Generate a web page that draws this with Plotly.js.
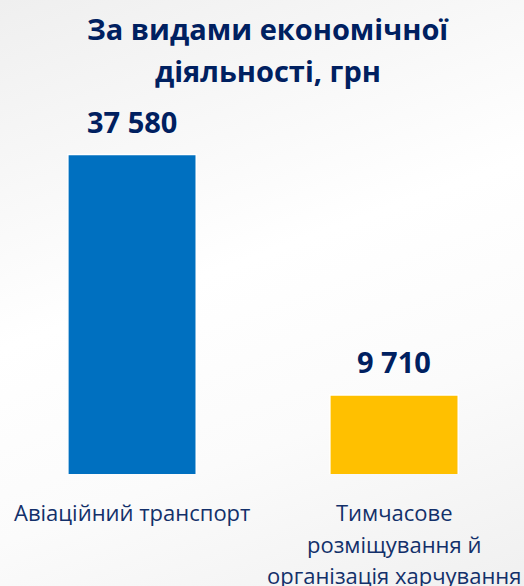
<!DOCTYPE html>
<html>
<head>
<meta charset="utf-8">
<script src="https://cdn.plot.ly/plotly-3.0.1.min.js"></script>
<style>
  html, body { margin: 0; padding: 0; }
  body {
    width: 524px; height: 586px; overflow: hidden;
    background: linear-gradient(160deg, #efefef 0%, #f8f8f8 25%, #ffffff 45%, #fbfbfb 70%, #f0f0f0 100%);
  }
  #chart { width: 524px; height: 586px; }
</style>
</head>
<body>
<div id="chart"></div>
<script>
// ---- data ----
const titleLines = ['За видами економічної', 'діяльності, грн'];
const categories = ['Авіаційний транспорт', 'Тимчасове розміщування й організація харчування'];
const categoryLines = [
  ['Авіаційний транспорт'],
  ['Тимчасове', 'розміщування й', 'організація харчування']
];
const values = [37580, 9710];
const valueLabels = ['37 580', '9 710'];
const barColors = ['#0070C0', '#FFC000'];

// ---- style ----
const navy = '#002060';
const labelColor = '#13306A';
const fontFam = '"Open Sans", "Noto Sans", sans-serif';

const annotations = [];
titleLines.forEach((line, j) => {
  annotations.push({
    x: 0.512, y: 1, xref: 'paper', yref: 'paper',
    text: '<b>' + line + '</b>', showarrow: false,
    xanchor: 'center', yanchor: 'middle',
    yshift: 122 - j * 42,
    font: { family: fontFam, size: 29, color: navy }
  });
});
categories.forEach((c, i) => {
  annotations.push({
    x: c, y: values[i], xref: 'x', yref: 'y',
    text: '<b>' + valueLabels[i] + '</b>',
    showarrow: false, yanchor: 'bottom', yshift: 12,
    font: { family: fontFam, size: 29, color: navy }
  });
  categoryLines[i].forEach((line, j) => {
    annotations.push({
      x: c, y: 0, xref: 'x', yref: 'paper',
      text: line, showarrow: false, yanchor: 'middle',
      yshift: -38 - j * 31.5,
      font: { family: fontFam, size: 22, color: labelColor }
    });
  });
});

const trace = {
  type: 'bar',
  x: categories,
  y: values,
  marker: { color: barColors, line: { color: '#ffffff', width: 1.5 } },
  width: 0.49,
  hoverinfo: 'none'
};

const layout = {
  width: 524, height: 586,
  margin: { l: 0, r: 0, t: 150, b: 112, pad: 0 },
  paper_bgcolor: 'rgba(0,0,0,0)',
  plot_bgcolor: 'rgba(0,0,0,0)',
  showlegend: false,
  xaxis: {
    type: 'category', range: [-0.504, 1.496],
    showticklabels: false, showgrid: false, zeroline: false, showline: false, ticks: ''
  },
  yaxis: {
    range: [555, 38103],
    showticklabels: false, showgrid: false, zeroline: false, showline: false, ticks: ''
  },
  annotations: annotations
};

Plotly.newPlot('chart', [trace], layout, { displayModeBar: false, staticPlot: true });
</script>
</body>
</html>
